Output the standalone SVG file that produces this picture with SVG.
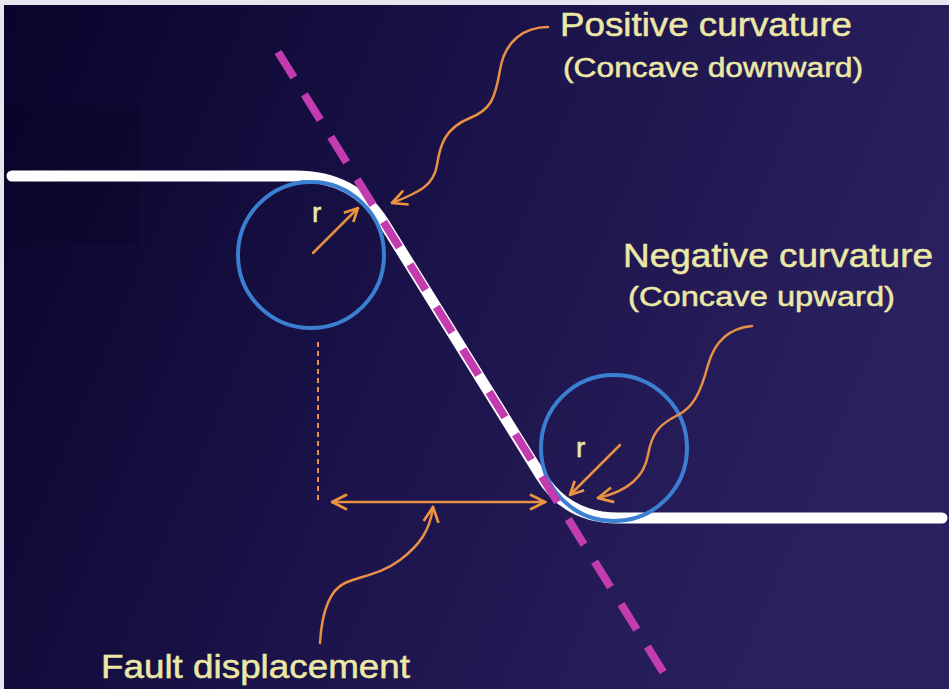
<svg xmlns="http://www.w3.org/2000/svg" width="949" height="689" viewBox="0 0 949 689">
<defs>
<linearGradient id="bg" x1="0" y1="0" x2="1" y2="0.3">
<stop offset="0" stop-color="#08042a"/>
<stop offset="0.5" stop-color="#1a1248"/>
<stop offset="1" stop-color="#2a2060"/>
</linearGradient>
<marker id="ah" viewBox="0 0 12 12" refX="11" refY="6" markerWidth="16" markerHeight="16" markerUnits="userSpaceOnUse" orient="auto-start-reverse">
<path d="M1,1 L11,6 L1,11" fill="none" stroke="#ec9440" stroke-width="2"/>
</marker>
<marker id="ahs" viewBox="0 0 12 12" refX="11" refY="6" markerWidth="18" markerHeight="18" markerUnits="userSpaceOnUse" orient="auto-start-reverse">
<path d="M1,1 L11,6 L1,11" fill="none" stroke="#ec9440" stroke-width="1.8"/>
</marker>
</defs>
<style>
.lbl{font-family:"Liberation Sans",Arial,sans-serif;fill:#ece8a6;stroke:#ece8a6;stroke-width:0.5;}
.big{font-size:33px;}
.sub{font-size:27px;}
.lead{fill:none;stroke:#e89044;stroke-width:2.5;stroke-linecap:round;}
.circ{fill:none;stroke:#3a7fd2;stroke-width:4;}
</style>
<rect width="949" height="689" fill="url(#bg)"/>
<rect x="0" y="105" width="140" height="140" fill="#06031f" opacity="0.25"/>
<rect x="0" y="0" width="949" height="5" fill="#e6e6ee"/>
<rect x="0" y="0" width="4" height="689" fill="#e6e6ee"/>

<g id="profile">
<path d="M12,176 L295,176 Q355,176 384,223 L541,476 Q567,518 618,518 L942,518" fill="none" stroke="#ffffff" stroke-width="11" stroke-linecap="round" stroke-linejoin="round"/>
<path d="M300,181 Q350,181 378,223" fill="none" stroke="#6fa0e0" stroke-width="2" opacity="0.8"/>
</g>

<g id="circle-positive">
<circle class="circ" cx="311" cy="255" r="73"/>
</g>
<g id="circle-negative">
<circle class="circ" cx="614" cy="448" r="73"/>
</g>

<g id="fault-line">
<line x1="278" y1="52" x2="665" y2="675" stroke="#c23cb0" stroke-width="8" stroke-dasharray="30,20"/>
</g>

<g id="connectors">
<line class="lead" x1="313" y1="253" x2="358" y2="208" marker-end="url(#ah)"/>
<line class="lead" x1="620" y1="445" x2="570" y2="495" marker-end="url(#ah)"/>
<line x1="318" y1="342" x2="318" y2="500" stroke="#e89044" stroke-width="2" stroke-dasharray="5,4"/>
<line class="lead" x1="332" y1="502" x2="545" y2="502" marker-start="url(#ahs)" marker-end="url(#ahs)"/>
<path class="lead" d="M548,27 C525,27 505,40 500,70 C495,100 490,110 470,118 C445,128 440,145 437,165 C434,185 420,192 392,203" marker-end="url(#ahs)"/>
<path class="lead" d="M752,326 C730,328 715,340 708,365 C700,395 692,408 678,415 C660,424 652,432 648,455 C644,478 625,492 598,498" marker-end="url(#ahs)"/>
<path class="lead" d="M320,643 C322,610 330,590 345,583 C360,576 380,575 400,560 C420,545 430,530 433,507" marker-end="url(#ahs)"/>
</g>

<g id="labels">
<text class="lbl" x="312" y="222" font-size="28">r</text>
<text class="lbl" x="576" y="457" font-size="28">r</text>
<text class="lbl big" x="560" y="36" textLength="292" lengthAdjust="spacingAndGlyphs">Positive curvature</text>
<text class="lbl sub" x="563" y="77" textLength="300" lengthAdjust="spacingAndGlyphs">(Concave downward)</text>
<text class="lbl big" x="623" y="267" textLength="310" lengthAdjust="spacingAndGlyphs">Negative curvature</text>
<text class="lbl sub" x="628" y="306" textLength="267" lengthAdjust="spacingAndGlyphs">(Concave upward)</text>
<text class="lbl big" x="101" y="678" textLength="309" lengthAdjust="spacingAndGlyphs">Fault displacement</text>
</g>
</svg>
